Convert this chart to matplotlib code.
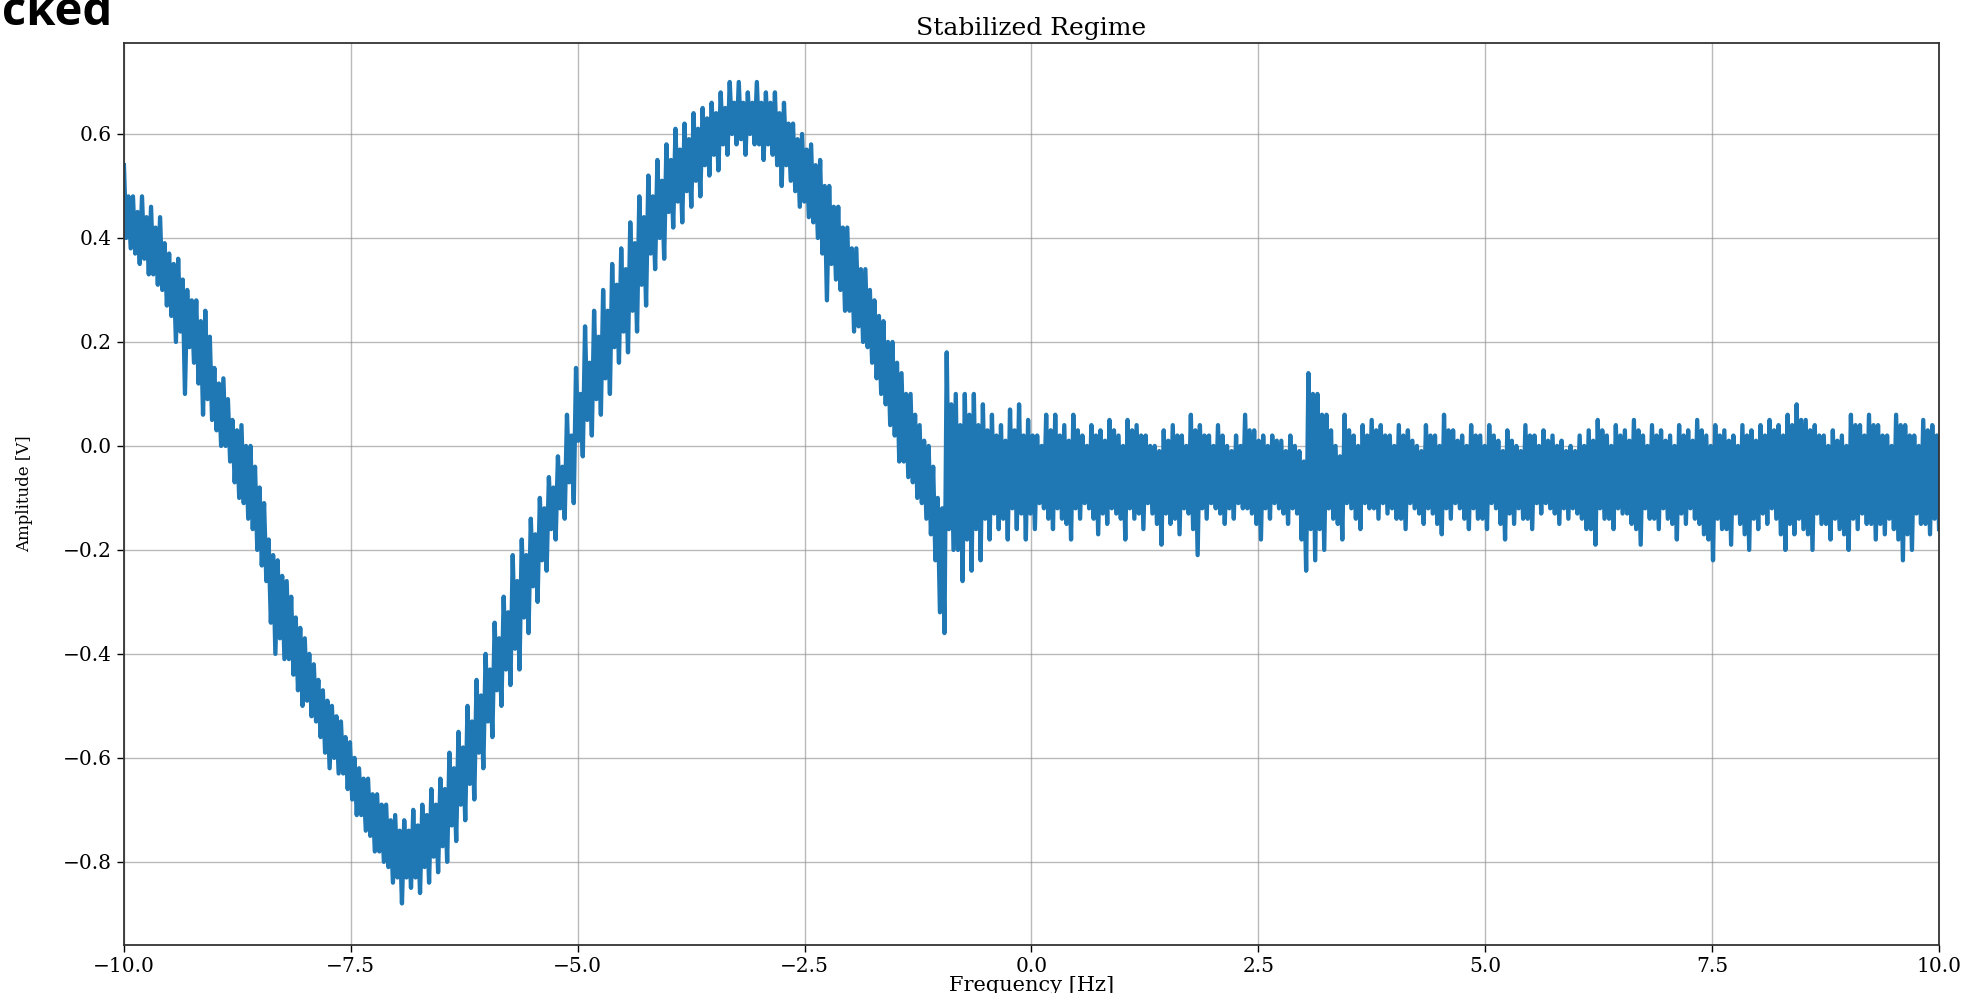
import numpy as np
import matplotlib
matplotlib.use("Agg")
import matplotlib.pyplot as plt

# noisy trace read every 0.1 Hz from -10 to 10:
# outer spikes (top / bottom) and the dense core (core_hi / core_lo)
band_top = [
    0.54, 0.48, 0.48, 0.46, 0.44, 0.37, 0.36, 0.30, 0.28, 0.26,
    0.15, 0.13, 0.05, 0.04, 0.00, -0.08, -0.18, -0.22, -0.26, -0.33,
    -0.37, -0.42, -0.47, -0.50, -0.53, -0.57, -0.62, -0.64, -0.67, -0.69,
    -0.71, -0.72, -0.70, -0.69, -0.66, -0.64, -0.59, -0.55, -0.50, -0.45,
    -0.40, -0.34, -0.29, -0.21, -0.18, -0.14, -0.10, -0.06, -0.02, 0.06,
    0.15, 0.23, 0.26, 0.30, 0.35, 0.38, 0.43, 0.48, 0.52, 0.55,
    0.58, 0.61, 0.62, 0.64, 0.65, 0.66, 0.68, 0.70, 0.70, 0.68,
    0.70, 0.68, 0.68, 0.66, 0.62, 0.60, 0.58, 0.55, 0.50, 0.46,
    0.42, 0.38, 0.34, 0.28, 0.24, 0.20, 0.14, 0.10, 0.04, 0.00,
    -0.10, 0.18, 0.10, 0.10, 0.10, 0.08, 0.06, 0.04, 0.07, 0.08,
    0.05, 0.02, 0.06, 0.06, 0.04, 0.06, 0.02, 0.04, 0.03, 0.05,
    0.02, 0.05, 0.04, 0.02, 0.00, 0.03, 0.04, 0.02, 0.06, 0.04,
    0.02, 0.04, 0.00, 0.02, 0.06, 0.03, 0.02, 0.02, 0.01, 0.02,
    -0.01, 0.14, 0.10, 0.06, 0.00, 0.06, 0.02, 0.04, 0.05, 0.04,
    0.02, 0.04, 0.03, 0.00, 0.04, 0.02, 0.06, 0.03, 0.02, 0.04,
    0.02, 0.04, 0.01, 0.03, 0.00, 0.04, 0.02, 0.03, 0.02, 0.01,
    0.00, 0.02, 0.03, 0.05, 0.02, 0.04, 0.03, 0.05, 0.02, 0.04,
    0.03, 0.02, 0.04, 0.03, 0.05, 0.02, 0.04, 0.03, 0.02, 0.04,
    0.03, 0.04, 0.05, 0.04, 0.06, 0.08, 0.05, 0.04, 0.02, 0.03,
    0.02, 0.06, 0.04, 0.06, 0.04, 0.02, 0.06, 0.04, 0.02, 0.05, 0.04,
]
core_lo = [
    0.40, 0.37, 0.36, 0.33, 0.30, 0.25, 0.22, 0.19, 0.12, 0.09,
    0.03, 0.00, -0.07, -0.11, -0.16, -0.23, -0.34, -0.37, -0.41, -0.47,
    -0.49, -0.53, -0.59, -0.60, -0.63, -0.68, -0.71, -0.75, -0.78, -0.81,
    -0.83, -0.83, -0.83, -0.81, -0.79, -0.77, -0.73, -0.69, -0.65, -0.59,
    -0.53, -0.47, -0.43, -0.39, -0.33, -0.27, -0.22, -0.16, -0.12, -0.07,
    0.01, 0.05, 0.09, 0.13, 0.19, 0.22, 0.26, 0.31, 0.37, 0.40,
    0.45, 0.47, 0.49, 0.51, 0.54, 0.56, 0.58, 0.60, 0.59, 0.60,
    0.58, 0.58, 0.54, 0.54, 0.49, 0.47, 0.43, 0.37, 0.35, 0.30,
    0.26, 0.23, 0.19, 0.13, 0.08, 0.02, -0.03, -0.07, -0.11, -0.17,
    -0.32, -0.16, -0.20, -0.18, -0.16, -0.14, -0.13, -0.14, -0.12, -0.13,
    -0.13, -0.11, -0.14, -0.12, -0.15, -0.12, -0.11, -0.14, -0.13, -0.12,
    -0.14, -0.12, -0.13, -0.11, -0.15, -0.13, -0.14, -0.12, -0.16, -0.12,
    -0.11, -0.13, -0.12, -0.11, -0.12, -0.15, -0.12, -0.11, -0.13, -0.12,
    -0.18, -0.16, -0.16, -0.12, -0.15, -0.11, -0.14, -0.11, -0.12, -0.11,
    -0.12, -0.14, -0.11, -0.13, -0.12, -0.15, -0.12, -0.11, -0.14, -0.12,
    -0.14, -0.11, -0.15, -0.13, -0.12, -0.14, -0.11, -0.11, -0.13, -0.12,
    -0.12, -0.14, -0.16, -0.12, -0.14, -0.12, -0.13, -0.16, -0.12, -0.14,
    -0.12, -0.15, -0.13, -0.12, -0.15, -0.18, -0.14, -0.16, -0.13, -0.17,
    -0.14, -0.13, -0.12, -0.17, -0.15, -0.14, -0.17, -0.13, -0.15, -0.14,
    -0.17, -0.14, -0.13, -0.15, -0.15, -0.14, -0.18, -0.17, -0.13, -0.15, -0.14,
]
core_hi = [
    0.48, 0.45, 0.44, 0.42, 0.39, 0.35, 0.32, 0.28, 0.24, 0.21,
    0.12, 0.09, 0.03, 0.00, -0.04, -0.11, -0.21, -0.25, -0.29, -0.35,
    -0.40, -0.45, -0.49, -0.52, -0.56, -0.60, -0.64, -0.67, -0.69, -0.72,
    -0.74, -0.74, -0.73, -0.71, -0.69, -0.66, -0.62, -0.58, -0.53, -0.48,
    -0.43, -0.37, -0.32, -0.26, -0.21, -0.17, -0.12, -0.08, -0.04, 0.02,
    0.10, 0.16, 0.21, 0.26, 0.31, 0.34, 0.39, 0.44, 0.48, 0.51,
    0.55, 0.57, 0.59, 0.61, 0.63, 0.64, 0.65, 0.66, 0.66, 0.66,
    0.66, 0.66, 0.64, 0.62, 0.59, 0.57, 0.54, 0.50, 0.46, 0.42,
    0.38, 0.34, 0.30, 0.25, 0.20, 0.16, 0.10, 0.06, 0.01, -0.04,
    -0.12, 0.08, 0.04, 0.06, 0.04, 0.03, 0.02, 0.01, 0.03, 0.02,
    0.02, 0.00, 0.03, 0.02, 0.01, 0.03, 0.00, 0.02, 0.01, 0.03,
    0.00, 0.03, 0.02, 0.00, -0.01, 0.01, 0.02, 0.00, 0.03, 0.02,
    0.00, 0.02, -0.01, 0.00, 0.03, 0.01, 0.00, 0.01, -0.01, 0.00,
    -0.03, 0.10, 0.06, 0.03, -0.02, 0.03, 0.00, 0.02, 0.03, 0.02,
    0.00, 0.02, 0.01, -0.01, 0.02, 0.00, 0.03, 0.01, 0.00, 0.02,
    0.00, 0.02, -0.01, 0.01, -0.01, 0.02, 0.00, 0.01, 0.00, -0.01,
    -0.01, 0.00, 0.01, 0.03, 0.00, 0.02, 0.01, 0.03, 0.00, 0.02,
    0.01, 0.00, 0.02, 0.01, 0.03, 0.00, 0.02, 0.01, 0.00, 0.02,
    0.01, 0.02, 0.03, 0.02, 0.04, 0.05, 0.03, 0.02, 0.00, 0.01,
    0.00, 0.04, 0.02, 0.04, 0.02, 0.00, 0.04, 0.02, 0.00, 0.03, 0.02,
]
band_bottom = [
    0.38, 0.35, 0.33, 0.31, 0.27, 0.20, 0.10, 0.16, 0.06, 0.05,
    0.00, -0.03, -0.10, -0.14, -0.20, -0.26, -0.40, -0.41, -0.44, -0.50,
    -0.52, -0.56, -0.62, -0.63, -0.66, -0.71, -0.74, -0.78, -0.80, -0.84,
    -0.88, -0.85, -0.86, -0.84, -0.82, -0.80, -0.76, -0.72, -0.68, -0.62,
    -0.56, -0.50, -0.46, -0.43, -0.36, -0.30, -0.24, -0.18, -0.14, -0.11,
    -0.02, 0.02, 0.06, 0.10, 0.16, 0.18, 0.22, 0.27, 0.34, 0.36,
    0.42, 0.43, 0.46, 0.48, 0.52, 0.53, 0.56, 0.58, 0.56, 0.58,
    0.55, 0.56, 0.50, 0.51, 0.46, 0.44, 0.40, 0.28, 0.32, 0.26,
    0.22, 0.20, 0.16, 0.10, 0.04, -0.03, -0.06, -0.10, -0.14, -0.22,
    -0.36, -0.20, -0.26, -0.24, -0.22, -0.18, -0.16, -0.18, -0.16, -0.18,
    -0.16, -0.12, -0.16, -0.14, -0.18, -0.14, -0.12, -0.17, -0.15, -0.13,
    -0.18, -0.14, -0.16, -0.13, -0.19, -0.15, -0.17, -0.13, -0.21, -0.14,
    -0.12, -0.15, -0.14, -0.12, -0.13, -0.18, -0.14, -0.12, -0.15, -0.13,
    -0.24, -0.22, -0.20, -0.14, -0.18, -0.12, -0.16, -0.12, -0.14, -0.13,
    -0.14, -0.16, -0.12, -0.15, -0.13, -0.17, -0.14, -0.12, -0.16, -0.14,
    -0.16, -0.12, -0.18, -0.15, -0.14, -0.16, -0.13, -0.12, -0.15, -0.14,
    -0.13, -0.16, -0.19, -0.14, -0.16, -0.13, -0.15, -0.19, -0.14, -0.16,
    -0.14, -0.18, -0.15, -0.14, -0.17, -0.22, -0.16, -0.19, -0.15, -0.20,
    -0.16, -0.15, -0.14, -0.20, -0.17, -0.16, -0.20, -0.15, -0.18, -0.16,
    -0.20, -0.16, -0.15, -0.18, -0.17, -0.16, -0.22, -0.20, -0.15, -0.17, -0.16,
]

f_min, f_max = -10.0, 10.0

# within each 0.1 Hz step the trace goes top -> core -> bottom
amp = np.column_stack([band_top, core_lo, core_hi, band_bottom]).ravel()
freq = np.linspace(f_min, f_max, len(amp))

plt.rcParams['font.family'] = 'DejaVu Serif'

fig = plt.figure(figsize=(19.67, 9.93), dpi=100)
ax = fig.add_axes([0.063, 0.0483, 0.9228, 0.9084])
ax.plot(freq, amp, color='#1f77b4', linewidth=3.1)
ax.set_xlim(f_min, f_max)
ax.set_ylim(-0.96, 0.775)
ax.set_xticks([-10, -7.5, -5, -2.5, 0, 2.5, 5, 7.5, 10])
ax.grid(True, color='0.55', linewidth=1.0, alpha=0.6)
ax.tick_params(labelsize=14.5, length=5, width=1)
for s in ax.spines.values():
    s.set_linewidth(1.3)
    s.set_color('#333333')
ax.set_title("Stabilized Regime", fontsize=18, pad=6)
ax.set_xlabel("Frequency [Hz]", fontsize=15, labelpad=0)
ax.set_ylabel("Amplitude [V]", fontsize=12)
ax.yaxis.set_label_coords(-0.05, 0.5)

# cropped heading left over from the slide
fig.text(113 / 1967, 1 - 25 / 993, "Locked", ha='right', va='baseline',
         fontsize=34, fontweight='bold', family='Open Sans')

fig.savefig("out.png", dpi=100)
